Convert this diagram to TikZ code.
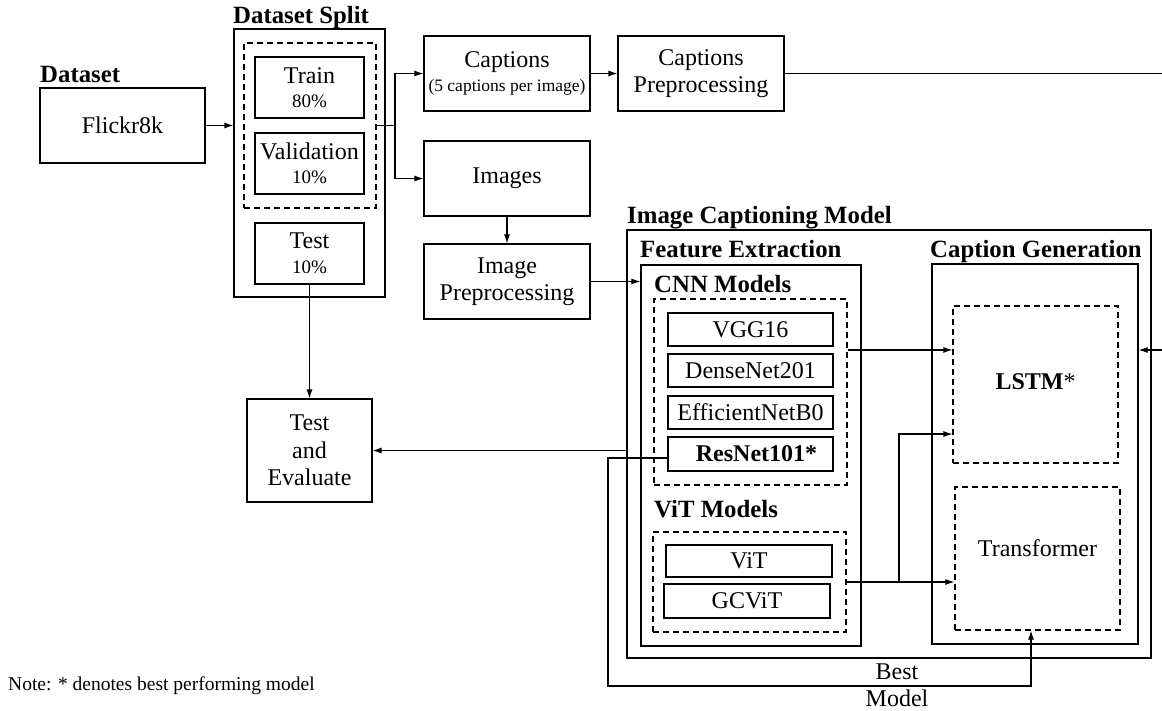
\documentclass[tikz,border=0pt]{standalone}
\usepackage{fontspec}
\setmainfont{Liberation Serif}
\usetikzlibrary{arrows.meta,calc}
\newcommand{\pctsize}{\fontsize{19}{22}\selectfont}
\newcommand{\smallcap}{\fontsize{17.5}{20}\selectfont}
\begin{document}
\begin{tikzpicture}[x=1pt,y=-1pt,
  box/.style={draw, line width=1.2pt, align=center, inner sep=0pt, font=\fontsize{24}{27.5}\selectfont},
  dbox/.style={draw, line width=1.1pt, dash pattern=on 6pt off 4pt, inner sep=0pt},
  lbl/.style={font=\fontsize{24.8}{28}\selectfont\bfseries, anchor=base west, inner sep=0pt},
  txt/.style={font=\fontsize{24}{27}\selectfont, align=center, inner sep=0pt},
  arr/.style={-{Latex[length=9pt,width=6pt]}, line width=1.1pt},
  ln/.style={line width=1.1pt}]
\useasboundingbox (0,0) rectangle (1162,711);
\clip (0,0) rectangle (1162,711);

% Dataset
\node[lbl] (ldataset) at (40,83) {Dataset};
\node[box, minimum width=165pt, minimum height=75pt] (flickr) at (122.5,125.5) {Flickr8k};

% Dataset split
\node[lbl] (lsplit) at (233,24) {Dataset Split};
\node[box, minimum width=151pt, minimum height=268pt] (split) at (309.5,163) {};
\node[dbox, minimum width=132pt, minimum height=165pt] (tv) at (310,125.5) {};
\node[box, minimum width=109pt, minimum height=61pt] (train) at (309.5,87.5) {Train\\[-3pt]{\pctsize 80\%}};
\node[box, minimum width=109pt, minimum height=61pt] (val) at (309.5,163.5) {Validation\\[-3pt]{\pctsize 10\%}};
\node[box, minimum width=109pt, minimum height=61pt] (test) at (309.5,253.5) {Test\\[-3pt]{\pctsize 10\%}};

% Captions / images
\node[box, minimum width=166pt, minimum height=75pt] (captions) at (507,73.5) {Captions\\[-3pt]{\smallcap (5 captions per image)}};
\node[box, minimum width=166pt, minimum height=75pt] (cprep) at (701,73.5) {Captions\\Preprocessing};
\node[box, minimum width=166pt, minimum height=75pt] (images) at (507,178.5) {Images};
\node[box, minimum width=166pt, minimum height=75pt] (iprep) at (507,281.5) {Image\\Preprocessing};

% Test and evaluate
\node[box, minimum width=125pt, minimum height=103pt] (te) at (309.5,450.5) {Test\\and\\Evaluate};

% Image captioning model
\node[lbl] (licm) at (627,224) {Image Captioning Model};
\node[box, minimum width=524pt, minimum height=428pt] (icm) at (889,444) {};
\node[lbl] (lfe) at (640,258) {Feature Extraction};
\node[box, minimum width=220pt, minimum height=381pt] (fe) at (751,455.5) {};
\node[lbl] (lcnn) at (654,293) {CNN Models};
\node[dbox, minimum width=193pt, minimum height=186pt] (cnn) at (750.5,392) {};
\node[box, minimum width=165pt, minimum height=33pt] (vgg) at (750.5,329.5) {VGG16};
\node[box, minimum width=165pt, minimum height=33pt] (dense) at (750.5,370.5) {DenseNet201};
\node[box, minimum width=165pt, minimum height=33pt] (eff) at (750.5,412.5) {EfficientNetB0};
\node[box, minimum width=165pt, minimum height=34pt] (res) at (750.5,454) {\hspace{12pt}\textbf{ResNet101*}};
\node[lbl] (lvit) at (654,517) {ViT Models};
\node[dbox, minimum width=193pt, minimum height=100pt] (vitd) at (749.5,582) {};
\node[box, minimum width=166pt, minimum height=32pt] (vit) at (749,561) {ViT};
\node[box, minimum width=166pt, minimum height=34pt] (gcvit) at (747,601) {GCViT};

\node[lbl] (lcg) at (930,258) {Caption Generation};
\node[box, minimum width=206pt, minimum height=380pt] (cg) at (1035,454) {};
\node[dbox, minimum width=165pt, minimum height=157pt] (lstm) at (1035.5,384.5) {};
\node[txt] (lstmt) at (1035.5,382) {\textbf{LSTM}*};
\node[dbox, minimum width=165pt, minimum height=143pt] (trans) at (1037.5,558.5) {};
\node[txt] (transt) at (1037.5,548) {Transformer};

% Labels
\node[txt] (bestm) at (897,685) {Best\\Model};
\node[font=\fontsize{19.5}{22}\selectfont, anchor=base west, inner sep=0pt] (note) at (8,690) {Note: * denotes best performing model};

% Coordinates
\coordinate (j1) at (395,125.5);
\coordinate (r1) at (1185,73.5);
\coordinate (r2) at (1185,350);
\coordinate (ylstm) at (0,350);
\coordinate (j2) at (899,582);
\coordinate (ylstm2) at (0,434);
\coordinate (b1) at (608,458);
\coordinate (b2) at (608,686);
\coordinate (b3) at (1031,686);

% Connectors
\draw[arr] (flickr.east) -- (flickr.east -| split.west);
\draw[ln] (tv.east) -- (j1);
\draw[arr] (j1) |- (captions.west);
\draw[arr] (j1) |- (images.west);
\draw[arr] (captions.east) -- (cprep.west);
\draw[arr] (cprep.east) -- (r1) -- (r2) -- (r2 -| cg.east);
\draw[arr] (images.south) -- (iprep.north);
\draw[arr] (iprep.east) -- (iprep.east -| fe.west);
\draw[arr] (cnn.east |- ylstm) -- (lstm.west |- ylstm);
\draw[arr] (vitd.east) -- (vitd.east -| trans.west);
\draw[arr] (j2) |- (lstm.west |- ylstm2);
\draw[arr] (test.south) -- (te.north);
\draw[arr] (te.east -| icm.west) -- (te.east);
\draw[arr] (b1 -| res.west) -- (b1) -- (b2) -- (b3) -- (b3 |- trans.south);
\end{tikzpicture}
\end{document}
